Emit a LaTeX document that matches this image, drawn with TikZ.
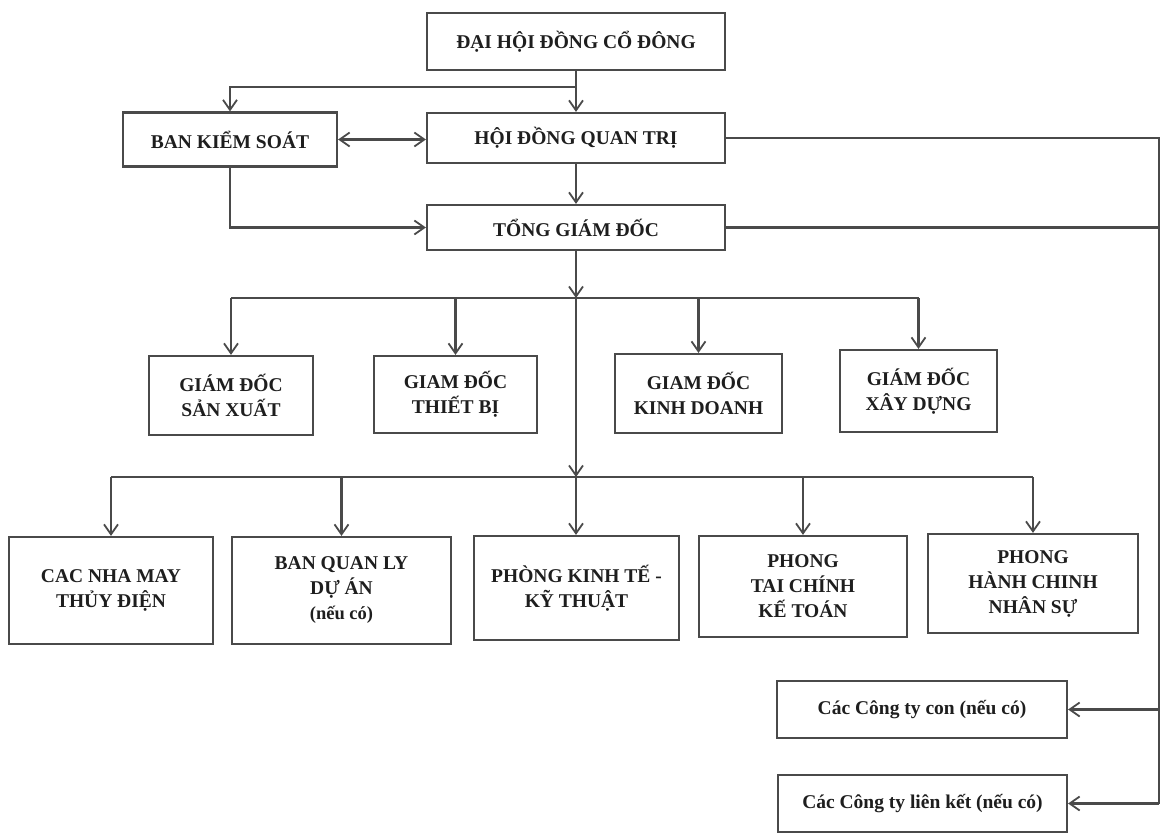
\documentclass[tikz,border=0pt]{standalone}
\usepackage{fontspec}
\setmainfont{Liberation Serif}
\usetikzlibrary{arrows.meta}
\definecolor{linec}{HTML}{4A4A4A}
\definecolor{textc}{HTML}{1E1E1E}
\tikzset{
  box/.style={draw=linec, line width=2.2pt, rectangle, inner sep=0pt, align=center,
    text=textc, font=\bfseries\fontsize{19.5}{25}\selectfont},
  conn/.style={draw=linec, line width=2.2pt},
  arr/.style={conn, -{Straight Barb[length=10pt,width=14pt,line width=1.8pt]}},
  darr/.style={conn, {Straight Barb[length=10pt,width=14pt,line width=1.8pt]}-{Straight Barb[length=10pt,width=14pt,line width=1.8pt]}}
}
\begin{document}
\begin{tikzpicture}[x=1pt,y=-1pt]
\useasboundingbox[fill=white] (0,0) rectangle (1163,833);
% top level
\node[box, minimum width=298pt, minimum height=57pt] (dhd) at (576,41.5) {ĐẠI HỘI ĐỒNG CỔ ĐÔNG};
\node[box, minimum width=298pt, minimum height=50pt] (hdqt) at (576,138) {HỘI ĐỒNG QUAN TRỊ};
\node[box, minimum width=298pt, minimum height=45pt] (tgd) at (576,227.5) {TỔNG GIÁM ĐỐC};
\node[box, minimum width=214pt, minimum height=54pt] (bks) at (230,139.5) {BAN KIỂM SOÁT};
% directors
\node[box, minimum width=164pt, minimum height=79pt] (gsx) at (231,395.5) {GIÁM ĐỐC\\SẢN XUẤT};
\node[box, minimum width=163pt, minimum height=77pt] (gtb) at (455.5,394.5) {GIAM ĐỐC\\THIẾT BỊ};
\node[box, minimum width=167pt, minimum height=79pt] (gkd) at (698.5,393.5) {GIAM ĐỐC\\KINH DOANH};
\node[box, minimum width=157pt, minimum height=82pt] (gxd) at (918.5,391) {GIÁM ĐỐC\\XÂY DỰNG};
% departments
\node[box, minimum width=204pt, minimum height=107pt] (cnm) at (111,590.5) {CAC NHA MAY\\THỦY ĐIỆN};
\node[box, minimum width=219pt, minimum height=107pt] (bql) at (341.5,590.5) {BAN QUAN LY\\DỰ ÁN\\{\fontsize{18.5}{22}\selectfont (nếu có)}};
\node[box, minimum width=205pt, minimum height=104pt] (pkt) at (576.5,588) {PHÒNG KINH TẾ -\\KỸ THUẬT};
\node[box, minimum width=208pt, minimum height=101pt] (tckt) at (803,586.5) {PHONG\\TAI CHÍNH\\KẾ TOÁN};
\node[box, minimum width=210pt, minimum height=99pt] (hcns) at (1033,583.5) {PHONG\\HÀNH CHINH\\NHÂN SỰ};
% subsidiaries
\node[box, minimum width=290pt, minimum height=57pt] (con) at (922,709.5) {Các Công ty con (nếu có)};
\node[box, minimum width=289pt, minimum height=57pt] (lk) at (922.5,803.5) {Các Công ty liên kết (nếu có)};
% coordinates
\coordinate (split) at (576,87);
\coordinate (bus1) at (576,298);
\coordinate (bus2) at (576,477);
\coordinate (rx) at (1159,0);
% top connectors
\draw[arr] (dhd.south) -- (hdqt.north);
\draw[arr] (split) -| (bks.north);
\draw[darr] (bks.east) -- (bks.east -| hdqt.west);
\draw[arr] (bks.south) |- (tgd.west);
\draw[arr] (hdqt.south) -- (tgd.north);
% right side
\draw[conn] (hdqt.east) -- (hdqt.east -| rx) -- (lk.east -| rx);
\draw[conn] (tgd.east) -- (tgd.east -| rx);
\draw[arr] (con.east -| rx) -- (con.east);
\draw[arr] (lk.east -| rx) -- (lk.east);
% directors bus
\draw[arr] (tgd.south) -- (bus1);
\draw[conn] (bus1 -| gsx.north) -- (bus1 -| gxd.north);
\draw[arr] (bus1 -| gsx.north) -- (gsx.north);
\draw[arr] (bus1 -| gtb.north) -- (gtb.north);
\draw[arr] (bus1 -| gkd.north) -- (gkd.north);
\draw[arr] (bus1 -| gxd.north) -- (gxd.north);
% departments bus
\draw[arr] (bus1) -- (bus2);
\draw[conn] (bus2 -| cnm.north) -- (bus2 -| hcns.north);
\draw[arr] (bus2 -| cnm.north) -- (cnm.north);
\draw[arr] (bus2 -| bql.north) -- (bql.north);
\draw[arr] (bus2) -- (bus2 |- pkt.north);
\draw[arr] (bus2 -| tckt.north) -- (tckt.north);
\draw[arr] (bus2 -| hcns.north) -- (hcns.north);
\end{tikzpicture}
\end{document}
